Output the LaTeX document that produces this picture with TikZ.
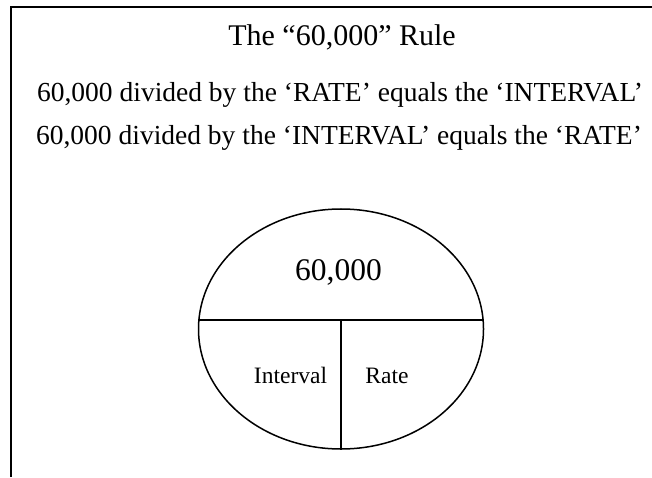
\documentclass[tikz,border=0pt]{standalone}
\usepackage{fontspec}
\setmainfont{Liberation Serif}
\usetikzlibrary{shapes.geometric}
\begin{document}
\begin{tikzpicture}[x=1pt,y=1pt,
  frameline/.style={line width=2pt},
  partline/.style={line width=1.5pt},
  txt/.style={inner sep=0pt, anchor=center},
  big/.style={txt, font=\fontsize{30}{36}\selectfont},
  mid/.style={txt, font=\fontsize{27.5}{32}\selectfont},
  small/.style={inner sep=0pt, anchor=base, font=\fontsize{23.5}{28}\selectfont}]
\useasboundingbox (0,0) rectangle (652,477);
\coordinate (fb) at (11,0);
\coordinate (fc) at (11,470);
\coordinate (fr) at (652,470);
\draw[frameline] (fb) -- (fc) -- (fr);
\node[big] (title) at (342,440) {The “60,000” Rule};
\node[mid] (ln1) at (340,382) {60,000 divided by the ‘RATE’ equals the ‘INTERVAL’};
\node[mid] (ln2) at (339,339) {60,000 divided by the ‘INTERVAL’ equals the ‘RATE’};
\node[draw, partline, ellipse, minimum width=285pt, minimum height=240pt, inner sep=0pt] (oval) at (341,148) {};
\coordinate (hl) at (198.9,157);
\coordinate (hr) at (483.1,157);
\coordinate (vt) at (341,157);
\draw[partline] (hl) -- (hr);
\draw[partline] (vt) -- (oval.south);
\node[big, font=\fontsize{31.5}{36}\selectfont] (num) at (338.5,205) {60,000};
\node[small] (int) at (290.5,94) {Interval};
\node[small] (rate) at (387,94) {Rate};
\end{tikzpicture}
\end{document}
